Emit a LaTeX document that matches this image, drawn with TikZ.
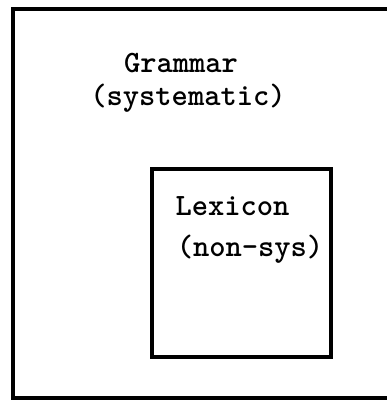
\documentclass[tikz,border=0pt]{standalone}
\begin{document}
\begin{tikzpicture}[x=1pt,y=-1pt,
  lbl/.style={font=\ttfamily\bfseries\fontsize{31}{34}\selectfont, inner sep=0pt, anchor=base},
  boxline/.style={line width=3.2pt, line cap=rect}]
\useasboundingbox (0,0) rectangle (387,404);
\fill[white] (0,0) rectangle (387,404);
% outer box (right side runs off the picture)
\coordinate (otr) at (390,9);
\coordinate (otl) at (13,9);
\coordinate (obl) at (13,398);
\coordinate (obr) at (390,398);
\draw[boxline] (otr) -- (otl) -- (obl) -- (obr);
% inner box
\coordinate (itl) at (152,169);
\coordinate (ibr) at (331,357);
\draw[boxline] (itl) rectangle (ibr);
% texts
\node[lbl] (g1) at (181,72) {Grammar};
\node[lbl] (g2) at (188,105) {(systematic)};
\node[lbl] (l1) at (232.5,215) {Lexicon};
\node[lbl] (l2) at (250,256) {(non-sys)};
\end{tikzpicture}
\end{document}
